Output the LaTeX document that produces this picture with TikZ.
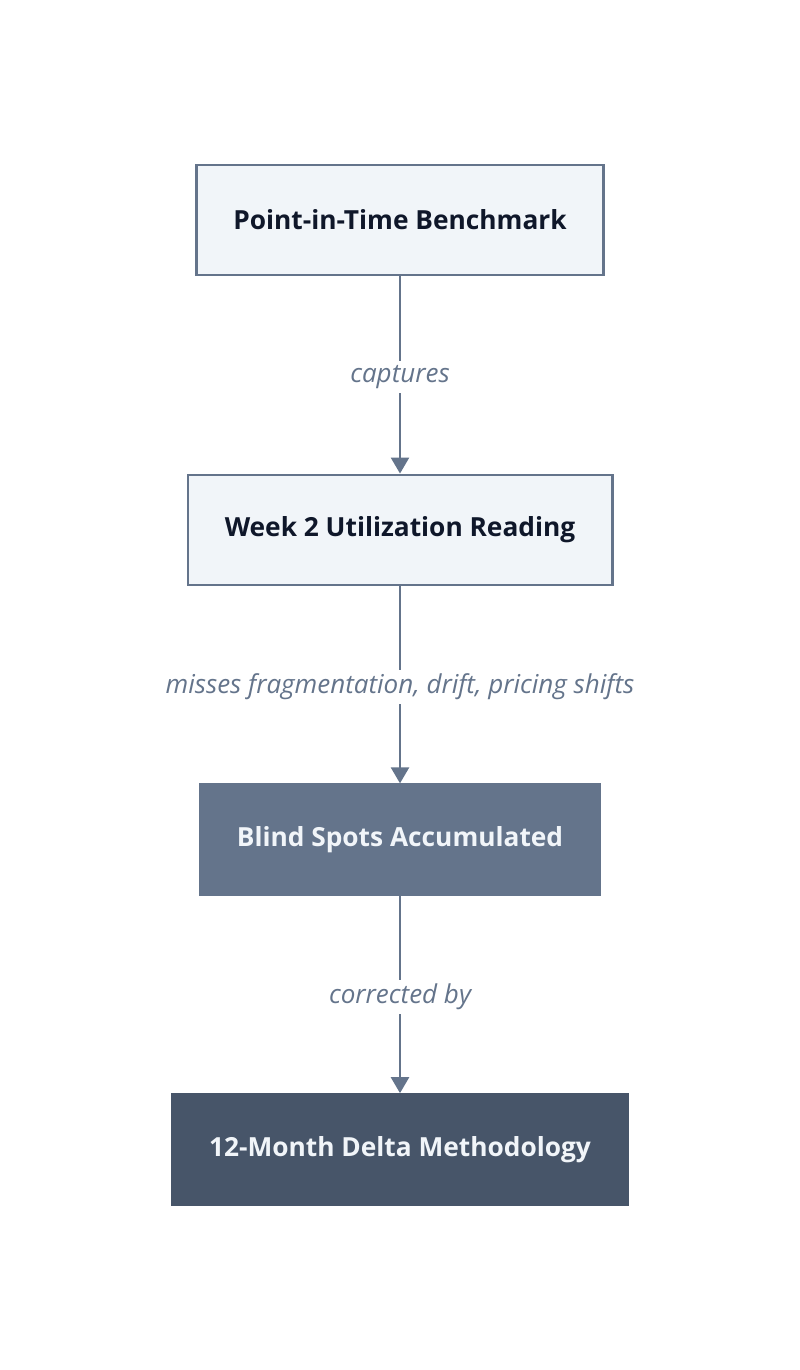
\documentclass[tikz,border=0pt]{standalone}
\usepackage{fontspec}
\setmainfont{Open Sans}
\usetikzlibrary{arrows.meta,positioning}
\definecolor{slateline}{HTML}{64748B}
\definecolor{lightfill}{HTML}{F1F5F9}
\definecolor{darkfill}{HTML}{475569}
\definecolor{inktext}{HTML}{0F172A}
\begin{document}
\begin{tikzpicture}[x=1pt,y=1pt,
		stage/.style={rectangle, draw=slateline, line width=2.5pt, fill=lightfill, text=inktext, minimum height=110pt, inner xsep=37pt, font=\fontsize{26.3}{30}\selectfont\bfseries},
		gap/.style={stage, draw=slateline, fill=slateline, text=lightfill},
		fix/.style={stage, draw=darkfill, fill=darkfill, text=lightfill},
		flow/.style={-{Triangle[length=16pt,width=18pt]}, line width=2.5pt, draw=slateline},
		tag/.style={fill=white, text=slateline, inner sep=4pt, yshift=-2pt, font=\fontsize{26}{30}\selectfont\itshape}]
		\useasboundingbox (0,0) rectangle (800,-1370);
		\node[stage] (bench) at (400,-220) {Point-in-Time Benchmark};
		\node[stage, below=197.3pt of bench] (week) {Week 2 Utilization Reading};
		\node[gap, below=197.3pt of week] (blind) {Blind Spots Accumulated};
		\node[fix, below=197.3pt of blind] (delta) {12-Month Delta Methodology};
		\draw[flow] (bench) to node[tag]{captures} (week);
		\draw[flow] (week) to node[tag]{misses fragmentation, drift, pricing shifts} (blind);
		\draw[flow] (blind) to node[tag]{corrected by} (delta);
		
		\end{tikzpicture}
\end{document}
